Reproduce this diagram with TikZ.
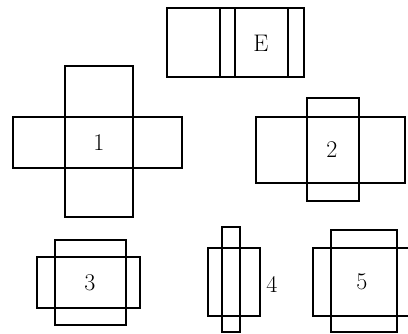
\documentclass[tikz,border=0pt]{standalone}
\usetikzlibrary{calc, positioning}

\tikzset{
  face/.style={draw, line width=2.2pt},
  tag/.style={font=\fontsize{24}{26}\selectfont, inner sep=0pt}
}

\begin{document}
\begin{tikzpicture}[x=1pt, y=-1pt]
\useasboundingbox (0,0) rectangle (408,334);

% the strip E
\draw[face] (167,8) rectangle (304,77);
\draw[face] (220,8) -- (220,77);
\draw[face] (235,8) -- (235,77);
\draw[face] (288,8) -- (288,77);
\node[tag] (labE) at (261,43) {E};

% net 1
\draw[face] (65,66) rectangle (133,217);
\draw[face] (13,117) rectangle (182,168);
\node[tag] (lab1) at (99,143) {1};

% net 2
\draw[face] (256,117) rectangle (405,183);
\draw[face] (307,98) rectangle (359,201);
\node[tag] (lab2) at (332,150) {2};

% net 3
\draw[face] (55,240) rectangle (126,325);
\draw[face] (37,257) rectangle (140,308);
\node[tag] (lab3) at (90,283) {3};

% net 4
\draw[face] (222,227) rectangle (240,332);
\draw[face] (208,248) rectangle (260,316);
\node[tag] (lab4) at (272,284) {4};

% net 5
\draw[face] (331,230) rectangle (397,332);
\draw[face] (313,248) rectangle (412,316);
\node[tag] (lab5) at (362,282) {5};
\end{tikzpicture}
\end{document}
